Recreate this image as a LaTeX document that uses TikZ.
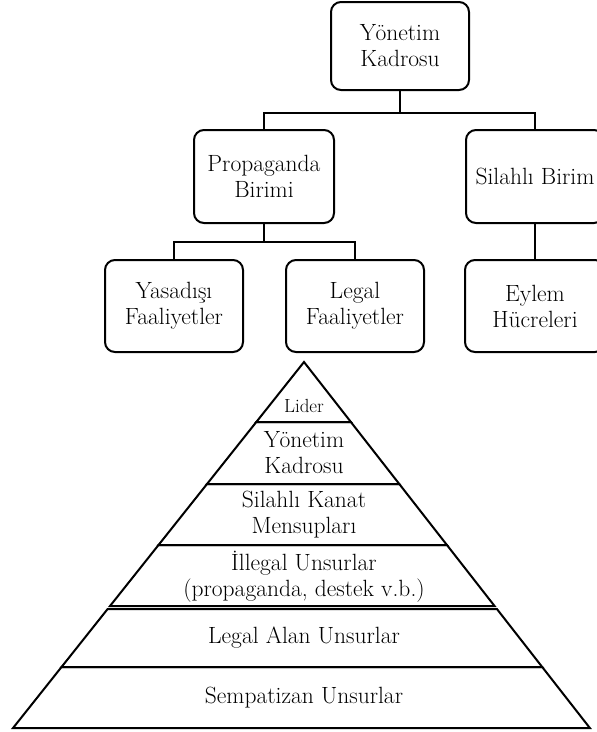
\documentclass[tikz,border=0pt]{standalone}
\usepackage{fontspec}
\usepackage{tikz}
\usetikzlibrary{positioning}

\begin{document}
\begin{tikzpicture}[
        x=1pt, y=-1pt, node distance=1cm, on grid,
        kutu/.style={draw, rounded corners=10pt, line width=2pt, minimum width=138pt,
                     minimum height=92pt, inner sep=0pt, align=center,
                     font=\fontsize{23.5}{26}\selectfont},
        baglanti/.style={line width=2pt},
        katman/.style={draw, line width=2pt, line join=miter},
        etiket/.style={align=center, font=\fontsize{23.5}{26}\selectfont},
        ]
        \clip (0,0) rectangle (597,732);
        % orgut semasi
        \node[kutu, minimum height=88pt]                 (ust)  at (400,46)                      {Yönetim\\Kadrosu};
        \node[kutu, minimum width=140pt, minimum height=93pt] (prop) [below left=130.5pt and 136pt of ust]  {Propaganda\\Birimi};
        \node[kutu, minimum height=93pt]                 (sil)  [below right=130.5pt and 135pt of ust] {Silahlı Birim};
        \node[kutu]                                      (yas)  [below left=129.5pt and 90pt of prop]  {Yasadışı\\Faaliyetler};
        \node[kutu]                                      (leg)  [below right=129.5pt and 91pt of prop] {Legal\\Faaliyetler};
        \node[kutu, minimum width=140pt]                 (eyl)  [below=129.5pt of sil]                 {Eylem\\Hücreleri};

        \draw[baglanti] (ust.south) -- ++(0,22) -| (prop.north);
        \draw[baglanti] (ust.south) -- ++(0,22) -| (sil.north);
        \draw[baglanti] (prop.south) -- ++(0,18) -| (yas.north);
        \draw[baglanti] (prop.south) -- ++(0,18) -| (leg.north);
        \draw[baglanti] (sil) -- (eyl);

        % piramit
        \draw[katman] (304,362) -- (350.9,422) -- (256.3,422) -- cycle;
        \foreach \tepe/\taban in {422/484, 484/545, 545/606, 609/667, 667/728}
          \draw[katman] ({304-0.795*(\tepe-362)},\tepe) -- ({304+0.781*(\tepe-362)},\tepe)
            -- ({304+0.781*(\taban-362)},\taban) -- ({304-0.795*(\taban-362)},\taban) -- cycle;

        \node[etiket, font=\fontsize{19}{22}\selectfont] (lider) at (304,406) {Lider};
        \node[etiket] (yonetim)    at (304,453) {Yönetim\\Kadrosu};
        \node[etiket] (kanat)      at (304,515) {Silahlı Kanat\\Mensupları};
        \node[etiket] (illegal)    at (304,577) {İllegal Unsurlar\\(propaganda, destek v.b.)};
        \node[etiket] (legal alan) at (304,638) {Legal Alan Unsurlar};
        \node[etiket] (sempatizan) at (304,698) {Sempatizan Unsurlar};
      \end{tikzpicture}
\end{document}
